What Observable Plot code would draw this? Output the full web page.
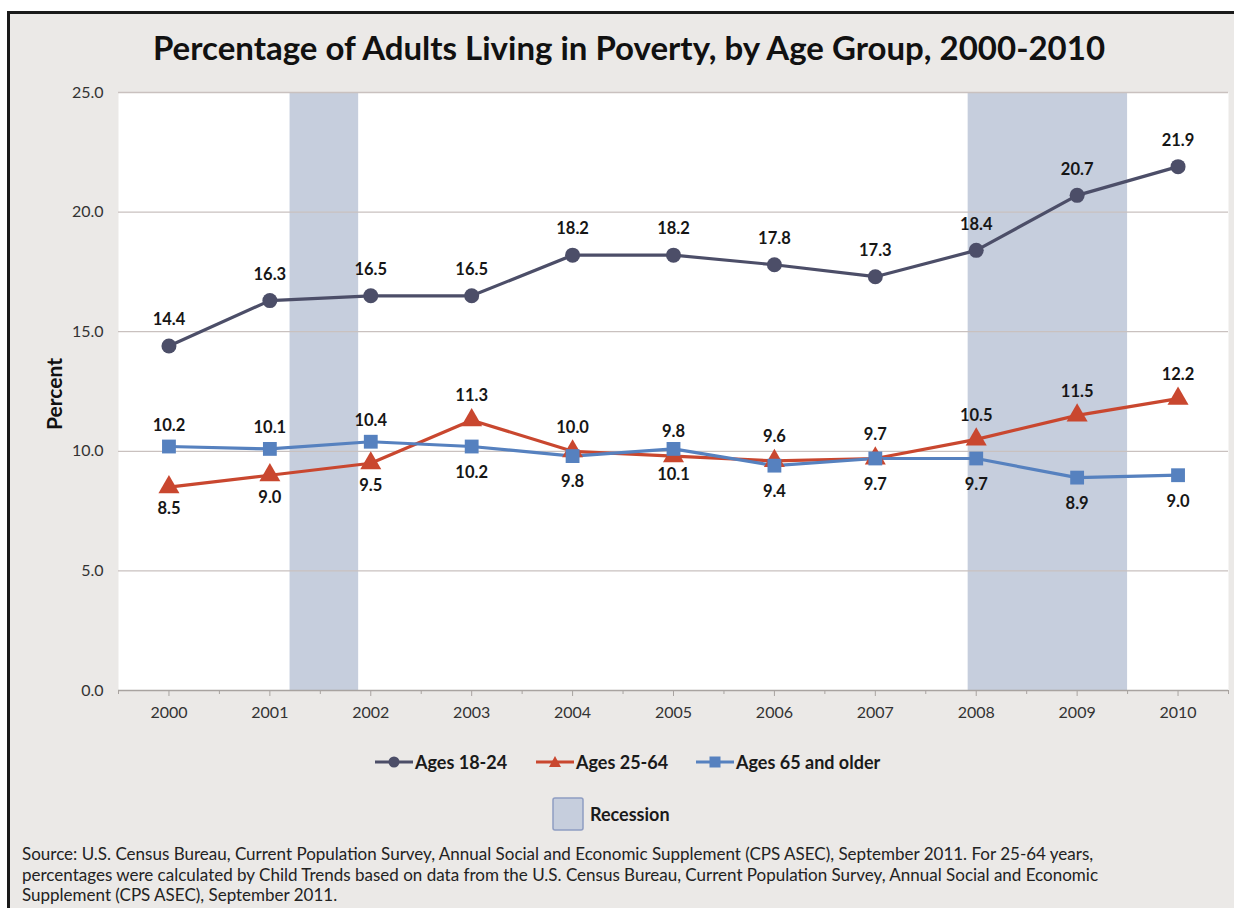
<!DOCTYPE html>
<html>
<head>
<meta charset="utf-8">
<script src="https://cdn.jsdelivr.net/npm/d3@7"></script>
<script src="https://cdn.jsdelivr.net/npm/@observablehq/plot@0.6"></script>
<style>
  html, body { margin: 0; padding: 0; background: #ffffff; }
  #page { position: relative; width: 1234px; height: 908px; overflow: hidden; background: #fff; font-family: Lato, "Open Sans", sans-serif; }
  #panel { position: absolute; left: 7px; top: 11px; width: 1240px; height: 910px; background: #ebe9e7; border: 3px solid #1a1a1a; }
  #title { position: absolute; left: 0; width: 1258px; top: 27px; text-align: center; font-weight: 700; font-size: 33px; color: #111; white-space: nowrap; }
  #chart { position: absolute; left: 0; top: 0; }
  #ylabel { position: absolute; left: 53px; top: 394px; transform: translate(-50%, -50%) rotate(-90deg); font-weight: 700; font-size: 21px; color: #111; white-space: nowrap; }
  #legend { position: absolute; top: 750px; left: 0; width: 1234px; }
  .leg { position: absolute; display: flex; align-items: center; font-weight: 700; font-size: 18px; color: #1a1a1a; white-space: nowrap; }
  #source { position: absolute; left: 22px; top: 844px; font-size: 17px; line-height: 20.5px; color: #222; white-space: nowrap; }
</style>
</head>
<body>
<div id="page">
  <div id="panel"></div>
  <div id="title"></div>
  <div id="chart"></div>
  <div id="ylabel">Percent</div>
  <div id="legend"></div>
  <div id="source"></div>
</div>
<script>
// ---- Data ----
const years = [2000, 2001, 2002, 2003, 2004, 2005, 2006, 2007, 2008, 2009, 2010];
const ages18to24 = [14.4, 16.3, 16.5, 16.5, 18.2, 18.2, 17.8, 17.3, 18.4, 20.7, 21.9];
const ages25to64 = [8.5, 9.0, 9.5, 11.3, 10.0, 9.8, 9.6, 9.7, 10.5, 11.5, 12.2];
const ages65plus = [10.2, 10.1, 10.4, 10.2, 9.8, 10.1, 9.4, 9.7, 9.7, 8.9, 9.0];
const seriesNames = ["Ages 18-24", "Ages 25-64", "Ages 65 and older"];
const recessionStart = [2001.2, 2007.92];
const recessionEnd = [2001.88, 2009.5];
const yTicks = [0, 5, 10, 15, 20, 25];
const titleText = "Percentage of Adults Living in Poverty, by Age Group, 2000-2010";
const sourceLines = [
  "Source: U.S. Census Bureau, Current Population Survey, Annual Social and Economic Supplement (CPS ASEC), September 2011. For 25-64 years,",
  "percentages were calculated by Child Trends based on data from the U.S. Census Bureau, Current Population Survey, Annual Social and Economic",
  "Supplement (CPS ASEC), September 2011."
];

// ---- Styles ----
const colors = ["#4c4e68", "#c9472f", "#5681bf"];
const symbols = ["circle", "triangle", "square"];
const recessionFill = "#c6cedd";

const rows = [];
[ages18to24, ages25to64, ages65plus].forEach((arr, si) => {
  arr.forEach((v, i) => rows.push({series: seriesNames[si], si, year: years[i], value: v}));
});
const recessions = recessionStart.map((s, i) => ({start: s, end: recessionEnd[i]}));
const boundaries = years.map(y => y - 0.5).concat([years[years.length - 1] + 0.5]);

const labelFmt = d3.format(".1f");
const early = d => d.year <= 2002;

const marks = [
  Plot.frame({fill: "white", stroke: null}),
  Plot.rect(recessions, {x1: "start", x2: "end", y1: 0, y2: 25, fill: recessionFill}),
  Plot.ruleY(yTicks.filter(d => d > 0), {stroke: "#c9c1bf", strokeWidth: 1.3}),
  Plot.ruleY([0], {stroke: "#a8a3a0", strokeWidth: 1.5}),
  Plot.axisY({ticks: yTicks, tickSize: 0, tickPadding: 15, tickFormat: d3.format(".1f"), label: null, fontSize: 16, color: "#333"}),
  Plot.axisX({ticks: years, tickSize: 6, tickPadding: 10, tickFormat: d => String(d), label: null, fontSize: 16, color: "#333", stroke: "#a8a3a0"}),
  Plot.axisX({ticks: boundaries, tickSize: 4, tickFormat: () => "", label: null, stroke: "#a8a3a0"})
];

seriesNames.forEach((name, si) => {
  const data = rows.filter(r => r.si === si);
  marks.push(Plot.line(data, {x: "year", y: "value", stroke: colors[si], strokeWidth: 3.2}));
});
seriesNames.forEach((name, si) => {
  const data = rows.filter(r => r.si === si);
  const r = si === 0 ? 7.5 : 7.8;
  marks.push(Plot.dot(data, {x: "year", y: "value", symbol: () => symbols[si], fill: colors[si], stroke: null, r}));
});

const textOpts = {x: "year", y: "value", text: d => labelFmt(d.value), fontSize: 16.5, fontWeight: 700, fill: "#161616", fontFamily: "Lato, 'Open Sans', sans-serif"};
marks.push(Plot.text(rows.filter(r => r.si === 0), {...textOpts, dy: -26}));
marks.push(Plot.text(rows.filter(r => r.si === 1 && early(r)), {...textOpts, dy: 22}));
marks.push(Plot.text(rows.filter(r => r.si === 1 && !early(r)), {...textOpts, dy: -24}));
marks.push(Plot.text(rows.filter(r => r.si === 2 && early(r)), {...textOpts, dy: -21}));
marks.push(Plot.text(rows.filter(r => r.si === 2 && !early(r)), {...textOpts, dy: 26}));

const chart = Plot.plot({
  width: 1234,
  height: 720,
  marginLeft: 118,
  marginRight: 6,
  marginTop: 92,
  marginBottom: 30,
  x: {domain: [1999.5, 2010.5]},
  y: {domain: [0, 25]},
  style: {background: "transparent", fontFamily: "Lato, 'Open Sans', sans-serif", fontSize: "16px", color: "#333"},
  marks
});
document.getElementById("chart").appendChild(chart);

document.getElementById("title").textContent = titleText;
document.getElementById("source").innerHTML = sourceLines.map(l => `<div>${l}</div>`).join("");

// ---- Legend ----
const legend = document.getElementById("legend");
const legendX = [375, 536, 696];
function symbolSvg(si) {
  const c = colors[si];
  let shape;
  if (si === 0) shape = `<circle cx="19" cy="12" r="5.5" fill="${c}"/>`;
  else if (si === 1) shape = `<path d="M19,6 L25,17 L13,17 Z" fill="${c}"/>`;
  else shape = `<rect x="13.5" y="6.5" width="11" height="11" fill="${c}"/>`;
  return `<svg width="38" height="24" style="margin-right:2px"><line x1="0" y1="12" x2="38" y2="12" stroke="${c}" stroke-width="3"/>${shape}</svg>`;
}
seriesNames.forEach((name, si) => {
  const d = document.createElement("div");
  d.className = "leg";
  d.style.left = legendX[si] + "px";
  d.style.top = "0px";
  d.innerHTML = symbolSvg(si) + `<span>${name}</span>`;
  legend.appendChild(d);
});
const rec = document.createElement("div");
rec.className = "leg";
rec.style.left = "552px";
rec.style.top = "47px";
rec.innerHTML = `<svg width="33" height="34" style="margin-right:5px"><rect x="1" y="1" width="30" height="32" rx="2" fill="${recessionFill}" stroke="#8f9dc2" stroke-width="1.5"/></svg><span>Recession</span>`;
legend.appendChild(rec);
</script>
</body>
</html>
